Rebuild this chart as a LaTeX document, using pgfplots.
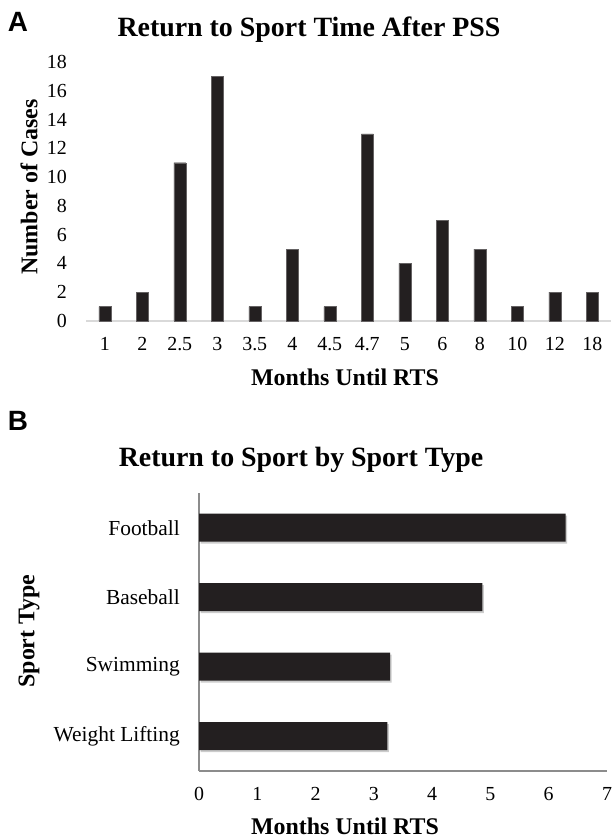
\documentclass[border=0pt]{standalone}
\usepackage{fontspec}
\setmainfont{Liberation Serif}
\newfontfamily\arialfont{Liberation Sans}
\usepackage{pgfplots}
\pgfplotsset{compat=1.18}
\usetikzlibrary{shadows}
\definecolor{barc}{HTML}{231F20}
\definecolor{axA}{HTML}{D9D9D9}
\definecolor{axB}{HTML}{8C8C8C}
\begin{document}
\begin{tikzpicture}
\path[use as bounding box] (0,0) rectangle (612bp,838bp);
% panel labels and titles
\node[font=\arialfont\bfseries\fontsize{28}{30}\selectfont] at (18bp,816bp) {A};
\node[font=\rmfamily\bfseries\fontsize{28}{30}\selectfont] at (309bp,808bp) {Return to Sport Time After PSS};
\node[font=\arialfont\bfseries\fontsize{28}{30}\selectfont] at (18bp,417bp) {B};
\node[font=\rmfamily\bfseries\fontsize{28}{30}\selectfont] at (301bp,378bp) {Return to Sport by Sport Type};
% axis labels
\node[font=\rmfamily\bfseries\fontsize{24}{26}\selectfont, rotate=90] at (29bp,651bp) {Number of Cases};
\node[font=\rmfamily\bfseries\fontsize{24}{26}\selectfont] at (345bp,461bp) {Months Until RTS};
\node[font=\rmfamily\bfseries\fontsize{24}{26}\selectfont, rotate=90] at (29bp,207bp) {Sport Type};
\node[font=\rmfamily\bfseries\fontsize{24}{26}\selectfont] at (345bp,12bp) {Months Until RTS};
\begin{axis}[
  at={(86bp,517bp)}, anchor=south west, scale only axis,
  width=525bp, height=259bp,
  xmin=-0.5, xmax=13.5, ymin=0, ymax=18,
  ytick={0,2,...,18},
  xtick={0,...,13},
  xticklabels={1,2,2.5,3,3.5,4,4.5,4.7,5,6,8,10,12,18},
  axis x line*=bottom, axis y line*=left,
  y axis line style={draw=none},
  x axis line style={axA, line width=1.5bp},
  major tick length=0pt,
  /pgf/number format/assume math mode=true,
  tick label style={font=\rmfamily\fontsize{20}{22}\selectfont, inner sep=0pt},
  yticklabel style={anchor=east, xshift=-19bp},
  xticklabel style={anchor=north, yshift=-16bp},
  ybar, bar width=12bp,
  clip=false,
]
\addplot[fill=barc, draw=barc!70!white, line width=0.4bp] coordinates {
(0,1) (1,2) (2,11) (3,17) (4,1) (5,5) (6,1) (7,13) (8,4) (9,7) (10,5) (11,1) (12,2) (13,2)};
\end{axis}
\begin{axis}[
  at={(199bp,67bp)}, anchor=south west, scale only axis,
  width=408bp, height=278bp,
  xmin=0, xmax=7, ymin=-0.5, ymax=3.5,
  xtick={0,...,7}, ytick={0,1,2,3},
  yticklabels={Weight Lifting,Swimming,Baseball,Football},
  axis x line*=bottom, axis y line*=left,
  axis line style={axB, line width=1.5bp},
  major tick length=0pt,
  /pgf/number format/assume math mode=true,
  tick label style={font=\rmfamily\fontsize{20}{22}\selectfont, inner sep=0pt},
  yticklabel style={anchor=east, xshift=-19bp, font=\rmfamily\fontsize{21.5}{23}\selectfont},
  xticklabel style={anchor=north, yshift=-16bp},
  xbar, bar width=28bp,
  clip=false,
]
\addplot[fill=barc, draw=none, drop shadow={shadow xshift=1.5bp, shadow yshift=-2bp, fill=black!40, opacity=0.5}] coordinates {
(3.23,0) (3.28,1) (4.86,2) (6.29,3)};
\end{axis}
\end{tikzpicture}
\end{document}
